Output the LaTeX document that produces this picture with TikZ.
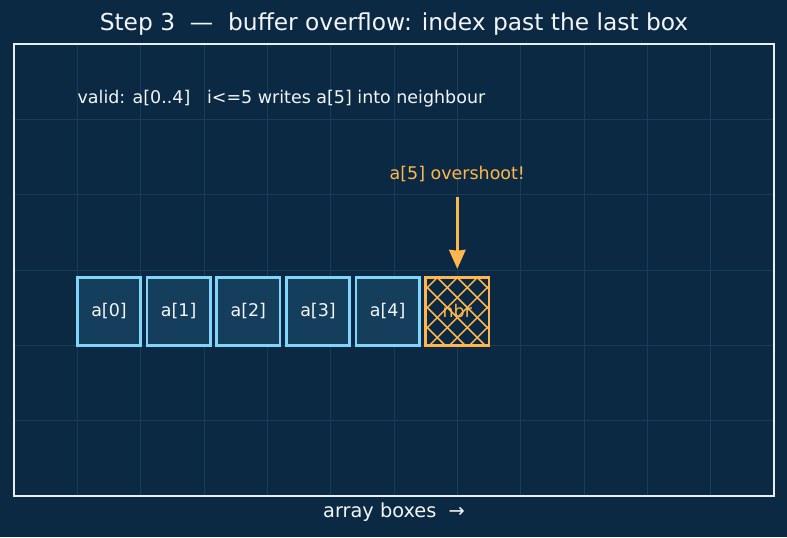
\documentclass[tikz,border=0pt]{standalone}
\usepackage{fontspec}
\setmainfont{DejaVu Sans}
\usepackage{xcolor}
\definecolor{cBg}{HTML}{0C2943}
\definecolor{cGrid}{HTML}{193C58}
\definecolor{cFrame}{HTML}{E8EEF2}
\definecolor{cCell}{HTML}{143E5C}
\definecolor{cEdge}{HTML}{81D4FA}
\definecolor{cWarn}{HTML}{FFB74D}
\definecolor{cText}{HTML}{F2F6F9}
\usepackage{tikz}
\usetikzlibrary{positioning,arrows.meta}
\tikzset{
  cell-box/.style={draw=cEdge,line width=2pt,fill=cCell,outer sep=0pt,
    minimum width=47.5pt,minimum height=50.85pt,inner sep=0pt,
    text=cText,font=\fontsize{13.1}{15}\selectfont},
  % cross hatch, lines 15pt apart (horizontally), crossing at the top middle
  cell-nbr/.style={draw=cWarn,fill=cBg,text=cWarn,
    path picture={
      \foreach \k in {-6,...,6} {
        \draw[cWarn,line width=1.1pt]
          ([shift={(-40pt,{25.4pt+15pt*\k+40pt})}]path picture bounding box.center)
          -- ([shift={(40pt,{25.4pt+15pt*\k-40pt})}]path picture bounding box.center);
        \draw[cWarn,line width=1.1pt]
          ([shift={(-40pt,{25.4pt-15pt*\k-40pt})}]path picture bounding box.center)
          -- ([shift={(40pt,{25.4pt-15pt*\k+40pt})}]path picture bounding box.center);
      }}},
  arrow-warn/.style={-{Stealth[length=5mm,width=4.3mm,inset=0.6pt]},line width=2.25pt,draw=cWarn},
  note/.style={text=cText,font=\fontsize{13.1}{15}\selectfont,inner sep=0pt},
}

\begin{document}
\begin{tikzpicture}[x=47.5pt,y=56.5pt,node distance=4.75pt]
  % page and axes
  \fill[cBg] (-0.2211,-0.5443) rectangle (12.2053,6.5845);
  \useasboundingbox (-0.2211,-0.5443) rectangle (12.2053,6.5845);
  \foreach \gx in {1,...,11} \draw[cGrid,line width=0.6pt] (\gx,0) -- (\gx,6);
  \foreach \gy in {1,...,5} \draw[cGrid,line width=0.6pt] (0,\gy) -- (12,\gy);
  \draw[cFrame,line width=0.9pt] (0,0) rectangle (12,6);

  \node[text=cText,font=\fontsize{17.5}{20}\selectfont] (title) at (6,6.266)
    {Step 3\ \ —\ \ buffer overflow: index past the last box};
  \node[text=cText,font=\fontsize{14.5}{17}\selectfont] (xlab) at (6,-0.212)
    {array boxes\ \ →};
  \node[note,anchor=west] (valid) at (1,5.27)
    {valid: a[0..4]\ \ \ i<=5 writes a[5] into neighbour};

  % the array cells
  \node[cell-box,anchor=south west] (a0) at (1,2) {a[0]};
  \node[cell-box,right=of a0] (a1) {a[1]};
  \node[cell-box,right=of a1] (a2) {a[2]};
  \node[cell-box,right=of a2] (a3) {a[3]};
  \node[cell-box,right=of a3] (a4) {a[4]};
  \node[cell-box,cell-nbr,right=of a4] (nbr) {nbr};

  \node[note,text=cWarn] (over) at (7,4.27) {a[5] overshoot!};
  \coordinate (tail) at (7,3.97);
  \draw[arrow-warn,shorten >=6.5pt] (tail) -- (tail |- nbr.north);
\end{tikzpicture}
\end{document}
